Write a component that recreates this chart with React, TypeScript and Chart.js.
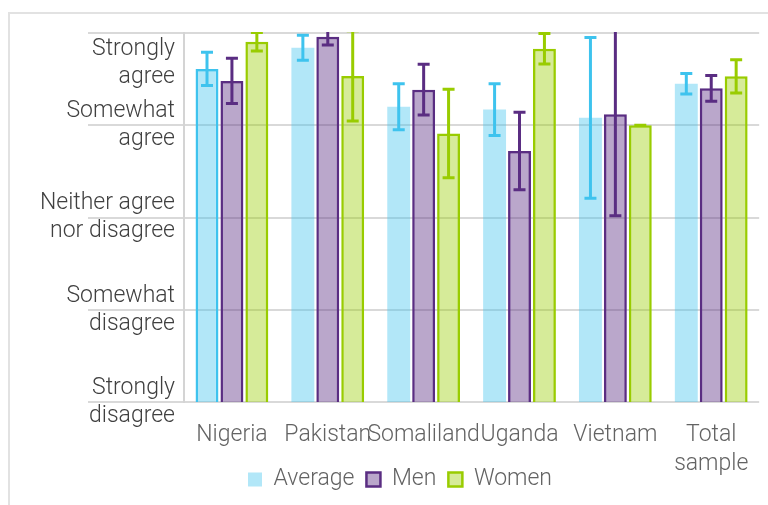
import React, { useEffect, useRef } from "react";
import { Chart, registerables } from "chart.js";

Chart.register(...registerables);

const categories: (string | string[])[] = ["Nigeria", "Pakistan", "Somaliland", "Uganda", "Vietnam", ["Total", "sample"]];
const yTickLabels: string[][] = [
  ["Strongly", "disagree"],
  ["Somewhat", "disagree"],
  ["Neither agree", "nor disagree"],
  ["Somewhat", "agree"],
  ["Strongly", "agree"],
];
const averageValues = [4.61, 4.84, 4.2, 4.17, 4.08, 4.45];
const averageErrors = [0.18, 0.135, 0.25, 0.28, 0.87, 0.11];
const menValues = [4.48, 4.96, 4.385, 3.72, 4.12, 4.4];
const menErrors = [0.245, 0.09, 0.275, 0.42, 1.1, 0.14];
const womenValues = [4.905, 4.535, 3.91, 4.83, 4.0, 4.53];
const womenErrors = [0.1, 0.49, 0.48, 0.165, 0.0, 0.18];

const FONT = "Roboto";
const C_AVG = "#3ec3ee";
const C_MEN = "#5a2d82";
const C_WOM = "#99cc00";

const errorSets = [averageErrors, menErrors, womenErrors];
const valueSets = [averageValues, menValues, womenValues];
const errorColors = [C_AVG, C_MEN, C_WOM];

const errorBarPlugin = {
  id: "errorBars",
  afterDatasetsDraw(chart: any) {
    const { ctx, chartArea } = chart;
    const yScale = chart.scales.y;
    ctx.save();
    ctx.beginPath();
    ctx.rect(chartArea.left, chartArea.top - 1, chartArea.right - chartArea.left, chartArea.bottom - chartArea.top + 1);
    ctx.clip();
    valueSets.forEach((vals, d) => {
      const meta = chart.getDatasetMeta(d);
      const errs = errorSets[d];
      ctx.strokeStyle = errorColors[d];
      ctx.lineWidth = 3;
      ctx.lineCap = "butt";
      meta.data.forEach((el: any, i: number) => {
        const x = el.x;
        const yt = yScale.getPixelForValue(vals[i] + errs[i]);
        const yb = yScale.getPixelForValue(vals[i] - errs[i]);
        ctx.beginPath();
        ctx.moveTo(x, yt);
        ctx.lineTo(x, yb);
        ctx.moveTo(x - 6, yt);
        ctx.lineTo(x + 6, yt);
        ctx.moveTo(x - 6, yb);
        ctx.lineTo(x + 6, yb);
        ctx.stroke();
      });
    });
    ctx.restore();
  },
};

const yLabelPlugin = {
  id: "yLabels",
  afterLayout(chart: any) {
    // let the two-line category label extend below the axis box without clipping
    chart.scales.x.bottom += 30;
  },
  afterDraw(chart: any) {
    const { ctx, chartArea } = chart;
    const yScale = chart.scales.y;
    ctx.save();
    ctx.font = `300 23px ${FONT}`;
    ctx.fillStyle = "#404040";
    ctx.textAlign = "right";
    ctx.textBaseline = "middle";
    const lh = 28;
    yTickLabels.forEach((lines, i) => {
      const center = yScale.getPixelForValue(i + 1);
      let first = center - ((lines.length - 1) * lh) / 2;
      if (first < chartArea.top + 16) first = chartArea.top + 16;
      lines.forEach((t, k) => {
        ctx.fillText(t, chartArea.left - 9, first + k * lh);
      });
    });
    ctx.restore();
  },
};

export default function App() {
  const ref = useRef<HTMLCanvasElement | null>(null);
  useEffect(() => {
    if (!ref.current) return;
    const chart = new Chart(ref.current, {
      type: "bar",
      data: {
        labels: categories,
        datasets: [
          {
            label: "Average",
            data: averageValues,
            backgroundColor: "rgba(62,195,238,0.4)",
            borderColor: C_AVG,
            borderWidth: (c: any) => (c.dataIndex === 0 ? 2.5 : 0),
          },
          {
            label: "Men",
            data: menValues,
            backgroundColor: "rgba(90,45,130,0.42)",
            borderColor: C_MEN,
            borderWidth: 2.5,
          },
          {
            label: "Women",
            data: womenValues,
            backgroundColor: "rgba(153,204,0,0.4)",
            borderColor: C_WOM,
            borderWidth: 2.5,
          },
        ],
      },
      options: {
        responsive: false,
        devicePixelRatio: 1,
        animation: false,
        layout: { padding: { top: 33, left: 40, right: 8, bottom: 4 } },
        datasets: { bar: { categoryPercentage: 0.78, barPercentage: 0.92 } },
        scales: {
          x: {
            grid: { display: false, drawTicks: false },
            border: { display: false },
            ticks: {
              autoSkip: false,
              maxRotation: 0,
              minRotation: 0,
              padding: 19,
              color: "#636363",
              font: { family: FONT, size: 23, weight: "300", lineHeight: 1.25 },
            },
            afterFit: (s: any) => {
              s.height = 54;
            },
          },
          y: {
            min: 1,
            max: 5,
            ticks: { stepSize: 1, display: false },
            grid: { color: "#d9d9d9", lineWidth: 2, tickLength: 96, drawTicks: true, tickColor: "#d9d9d9", tickWidth: 2 },
            border: { display: true, color: "#d4d4d4", width: 2 },
            afterFit: (s: any) => {
              s.width = 144;
            },
          },
        },
        plugins: {
          legend: {
            position: "bottom",
            labels: {
              boxWidth: 14,
              boxHeight: 14,
              padding: 12,
              color: "#636363",
              font: { family: FONT, size: 23, weight: "300" },
              generateLabels: (ch: any) => {
                const items = Chart.defaults.plugins.legend.labels.generateLabels(ch);
                items[0].lineWidth = 0;
                items[0].strokeStyle = "rgba(0,0,0,0)";
                return items;
              },
            },
          },
          tooltip: { enabled: false },
        },
      },
      plugins: [errorBarPlugin, yLabelPlugin],
    } as any);
    return () => chart.destroy();
  }, []);
  return (
    <div style={{ position: "fixed", left: 0, top: 0, width: 768, height: 505, background: "#fff" }}>
      <div
        style={{
          position: "absolute",
          left: 8,
          top: 12,
          right: 0,
          bottom: 0,
          borderTop: "2px solid #e2e2e2",
          borderLeft: "2px solid #e2e2e2",
        }}
      />
      <canvas ref={ref} width={768} height={505} style={{ position: "absolute", left: 0, top: 0 }} />
    </div>
  );
}
